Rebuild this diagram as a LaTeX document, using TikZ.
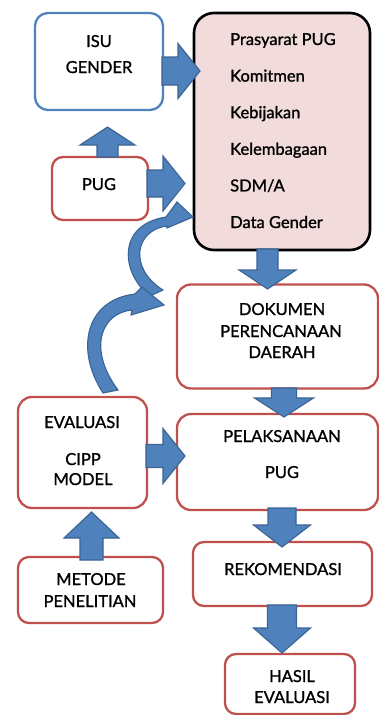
\documentclass[tikz,border=0pt]{standalone}
\usepackage{fontspec}
\setmainfont{Lato}
\newfontfamily\gfont{Lato}[FakeBold=1.2]
\definecolor{arrfill}{HTML}{4F81BD}
\definecolor{arrline}{HTML}{3A6494}
\definecolor{redline}{HTML}{C0504D}
\definecolor{blueline}{HTML}{4F81BD}
\definecolor{pinkfill}{HTML}{F2DCDB}
\newcommand\blkR[6]{\filldraw[barrow] (#1,{#3-#4}) -- ({#2-#6},{#3-#4}) -- ({#2-#6},{#3-#5}) -- (#2,#3) -- ({#2-#6},{#3+#5}) -- ({#2-#6},{#3+#4}) -- (#1,{#3+#4}) -- cycle;}
\newcommand\blkD[6]{\filldraw[barrow] ({#1-#4},#2) -- ({#1-#4},{#3-#6}) -- ({#1-#5},{#3-#6}) -- (#1,#3) -- ({#1+#5},{#3-#6}) -- ({#1+#4},{#3-#6}) -- ({#1+#4},#2) -- cycle;}
\newcommand\blkU[6]{\filldraw[barrow] ({#1-#4},#2) -- ({#1-#4},{#3+#6}) -- ({#1-#5},{#3+#6}) -- (#1,#3) -- ({#1+#5},{#3+#6}) -- ({#1+#4},{#3+#6}) -- ({#1+#4},#2) -- cycle;}
\begin{document}
\begin{tikzpicture}[x=1pt,y=-1pt,
  box/.style={draw=redline,line width=2.3pt,rounded corners=11pt,fill=white,inner sep=0pt},
  barrow/.style={fill=arrfill,draw=arrline,line width=1.1pt,line join=miter},
  txt/.style={anchor=base,inner sep=0pt,font=\gfont\fontsize{16.5}{20}\selectfont},
  ltxt/.style={anchor=base west,inner sep=0pt,font=\gfont\fontsize{16.5}{20}\selectfont}]
\useasboundingbox (0,0) rectangle (379,715);
% boxes
\node[box,draw=blueline,minimum width=128pt,minimum height=97pt,rounded corners=13pt] (isu) at (99,61.5) {};
\node[box,draw=black,fill=pinkfill,line width=2.6pt,minimum width=176pt,minimum height=237pt,rounded corners=20pt] (pras) at (282,131.5) {};
\node[box,minimum width=96pt,minimum height=63pt] (pug) at (100,188.5) {};
\node[box,minimum width=201pt,minimum height=104pt,rounded corners=14pt] (dok) at (277.5,336.5) {};
\node[box,minimum width=201pt,minimum height=96pt,rounded corners=14pt] (pel) at (277.5,462) {};
\node[box,minimum width=129pt,minimum height=111pt,rounded corners=14pt] (eval) at (82.5,452.5) {};
\node[box,minimum width=145pt,minimum height=66pt] (met) at (90.5,590) {};
\node[box,minimum width=179pt,minimum height=64pt] (rek) at (282.5,574) {};
\node[box,minimum width=130pt,minimum height=60pt] (has) at (290,684) {};
% texts
\node[txt] (t1) at (99,47) {ISU};
\node[txt] (t2) at (99,73) {GENDER};
\node[txt] (t3) at (99,190) {PUG};
\node[ltxt] (p1) at (230,45) {Prasyarat PUG};
\node[ltxt] (p2) at (230,81.6) {Komitmen};
\node[ltxt] (p3) at (230,118.2) {Kebijakan};
\node[ltxt] (p4) at (230,154.8) {Kelembagaan};
\node[ltxt] (p5) at (230,191.4) {SDM/A};
\node[ltxt] (p6) at (230,228) {Data Gender};
\node[txt] (d1) at (282,315) {DOKUMEN};
\node[txt] (d2) at (281,337) {PERENCANAAN};
\node[txt] (d3) at (282,358) {DAERAH};
\node[txt] (l1) at (282,442) {PELAKSANAAN};
\node[txt] (l2) at (282,478) {PUG};
\node[txt] (e1) at (82,428) {EVALUASI};
\node[txt] (e2) at (83,465) {CIPP};
\node[txt] (e3) at (83,485) {MODEL};
\node[txt] (m1) at (91,585) {METODE};
\node[txt] (m2) at (90,607) {PENELITIAN};
\node[txt] (r1) at (283,575) {REKOMENDASI};
\node[txt] (h1) at (292,682) {HASIL};
\node[txt] (h2) at (292,703) {EVALUASI};
% block arrows
\blkR{162}{200}{71}{14}{27.5}{22}
\blkU{107.5}{157}{127}{10.5}{27.5}{18}
\blkR{147}{185}{183.5}{13.5}{27.5}{22}
\blkD{267.5}{249}{289}{10.5}{28.5}{19}
\blkD{284}{388}{417}{12.5}{29.5}{19}
\blkR{146}{185}{456}{11.5}{27.5}{22}
\blkU{91.5}{560}{512}{11.5}{27.5}{26}
\blkD{282}{508}{547}{14}{28.5}{22}
\blkD{282}{605}{653}{14.5}{28.5}{25}
% curved arrows
\filldraw[barrow] (150,296) .. controls (122,275) and (115,225) .. (166,217) -- (177,202) -- (193,217) -- (167,228) -- (167,226) .. controls (135,230) and (128,268) .. (163,290) -- cycle;
\filldraw[barrow] (103,393) .. controls (75,350) and (85,300) .. (135,294) -- (142,287) -- (164,305) -- (131,315) -- (132,310) .. controls (100,313) and (88,350) .. (118,390) -- cycle;
\end{tikzpicture}
\end{document}
